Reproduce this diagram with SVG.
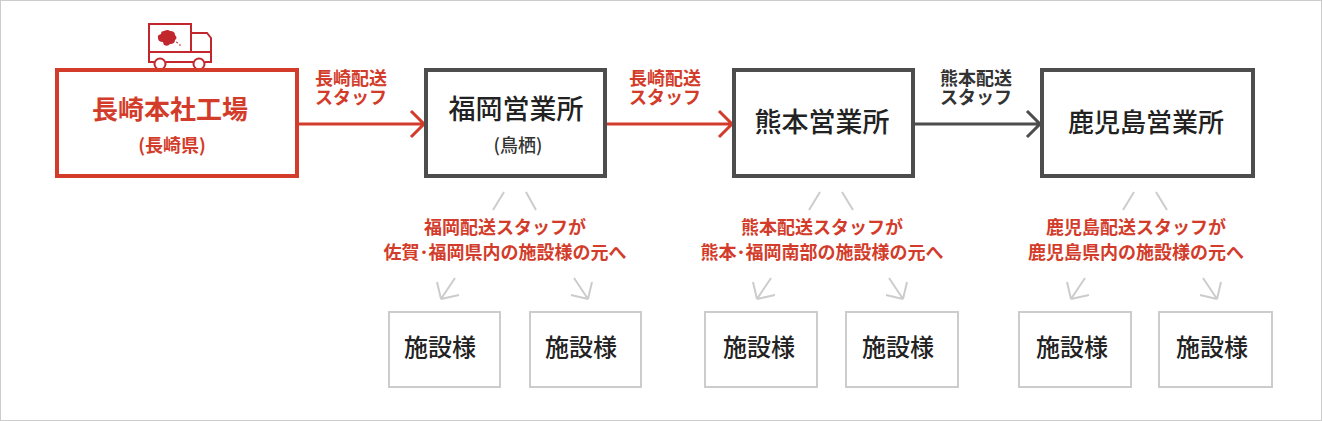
<svg xmlns="http://www.w3.org/2000/svg" width="1322" height="421" viewBox="0 0 1322 421">
<style>
text{font-family:"Noto Sans CJK JP","Noto Sans",sans-serif;text-anchor:middle}
.box{fill:#fff;stroke:#4d4d4d;stroke-width:4}
.main{fill:#fff;stroke:#d33c2a;stroke-width:4}
.fac{fill:#fff;stroke:#ccc;stroke-width:2}
.t1{font-size:27px;font-weight:500;fill:#222}
.t1r{font-size:26px;font-weight:700;fill:#d33c2a}
.t2{font-size:18px;font-weight:500;fill:#333}
.t2r{font-size:18px;font-weight:700;fill:#d33c2a}
.lab{font-size:18px;font-weight:700;fill:#d33c2a}
.labk{font-size:18px;font-weight:700;fill:#333}
.cap{font-size:18px;font-weight:700;fill:#d33c2a}
.ft{font-size:24px;font-weight:500;fill:#222}
.r{fill:none;stroke:#d33c2a;stroke-width:3}
.k{fill:none;stroke:#4d4d4d;stroke-width:3}
.g{fill:none;stroke:#ccc;stroke-width:2}
.tr{fill:none;stroke:#c1272d;stroke-width:2}
</style>
<rect x="0.5" y="0.5" width="1321" height="420" fill="#fff" stroke="#ccc"/>
<g id="truck">
<path class="tr" d="M149 24H191V52H149ZM191 33H207L211 38V62H205M191 33V52M149 52V62H154M166 62H193M149 52H211"/>
<path d="M135 71H227" stroke="#c1272d" stroke-width="2"/>
<circle class="tr" cx="160" cy="64" r="5.5" style="fill:#fff"/><circle class="tr" cx="199" cy="64" r="5.5" style="fill:#fff"/>
<path fill="#c1272d" d="M164 31q4-2 6 0q5 0 5 4q3 3 0 5q0 4-5 4q-2 3-6 1q-1-2-1-3q-5 0-5-4q-1-3 3-4q0-3 3-3Z"/>
<path d="M176 42l2 1M179 45h2" stroke="#c1272d" stroke-width="1"/>
</g>
<g id="connectors">
<path class="r" d="M299 124H424M411 111L424 124L411 137"/>
<path class="r" d="M607 124H732M719 111L732 124L719 137"/>
<path class="k" d="M915 124H1040M1027 111L1040 124L1027 137"/>
<path class="g" d="M504 192L493 210M526 192L536 210M455 278L441 299M441 299L459 295M441 299L437 282M574 278L588 299M588 299L571 295M588 299L592 282"/>
<path class="g" d="M820 192L809 210M842 192L853 210M771 278L757 299M757 299L775 295M757 299L753 282M889 278L903 299M903 299L886 295M903 299L907 282"/>
<path class="g" d="M1134 192L1123 210M1156 192L1167 210M1085 278L1071 299M1071 299L1089 295M1071 299L1067 282M1203 278L1217 299M1217 299L1200 295M1217 299L1221 282"/>
</g>
<g id="n-nagasaki"><rect class="main" x="57" y="70" width="240" height="106"/><text class="t1r" x="170" y="119">長崎本社工場</text><text class="t2r" x="172" y="152">(長崎県)</text></g>
<g id="n-fukuoka"><rect class="box" x="426" y="70" width="179" height="106"/><text class="t1" x="516" y="119">福岡営業所</text><text class="t2" x="518" y="152">(鳥栖)</text></g>
<g id="n-kumamoto"><rect class="box" x="734" y="70" width="179" height="106"/><text class="t1" x="822" y="132">熊本営業所</text></g>
<g id="n-kagoshima"><rect class="box" x="1042" y="70" width="211" height="106"/><text class="t1" style="font-size:26px" x="1146" y="132">鹿児島営業所</text></g>
<g id="labels">
<text class="lab" x="351" y="85">長崎配送</text><text class="lab" x="351" y="104">スタッフ</text>
<text class="lab" x="665" y="85">長崎配送</text><text class="lab" x="665" y="104">スタッフ</text>
<text class="labk" x="976" y="85">熊本配送</text><text class="labk" x="976" y="104">スタッフ</text>
<text class="cap" x="505" y="234">福岡配送スタッフが</text><text class="cap" x="505" y="259">佐賀･福岡県内の施設様の元へ</text>
<text class="cap" x="822" y="234">熊本配送スタッフが</text><text class="cap" x="822" y="259">熊本･福岡南部の施設様の元へ</text>
<text class="cap" x="1136" y="234">鹿児島配送スタッフが</text><text class="cap" x="1136" y="259">鹿児島県内の施設様の元へ</text>
</g>
<g id="f1"><rect class="fac" x="389" y="312" width="111" height="75"/><text class="ft" x="440" y="356">施設様</text></g>
<g id="f2"><rect class="fac" x="530" y="312" width="111" height="75"/><text class="ft" x="581" y="356">施設様</text></g>
<g id="f3"><rect class="fac" x="705" y="312" width="112" height="75"/><text class="ft" x="759" y="356">施設様</text></g>
<g id="f4"><rect class="fac" x="846" y="312" width="112" height="75"/><text class="ft" x="898" y="356">施設様</text></g>
<g id="f5"><rect class="fac" x="1019" y="312" width="112" height="75"/><text class="ft" x="1072" y="356">施設様</text></g>
<g id="f6"><rect class="fac" x="1159" y="312" width="113" height="75"/><text class="ft" x="1212" y="356">施設様</text></g>
</svg>
